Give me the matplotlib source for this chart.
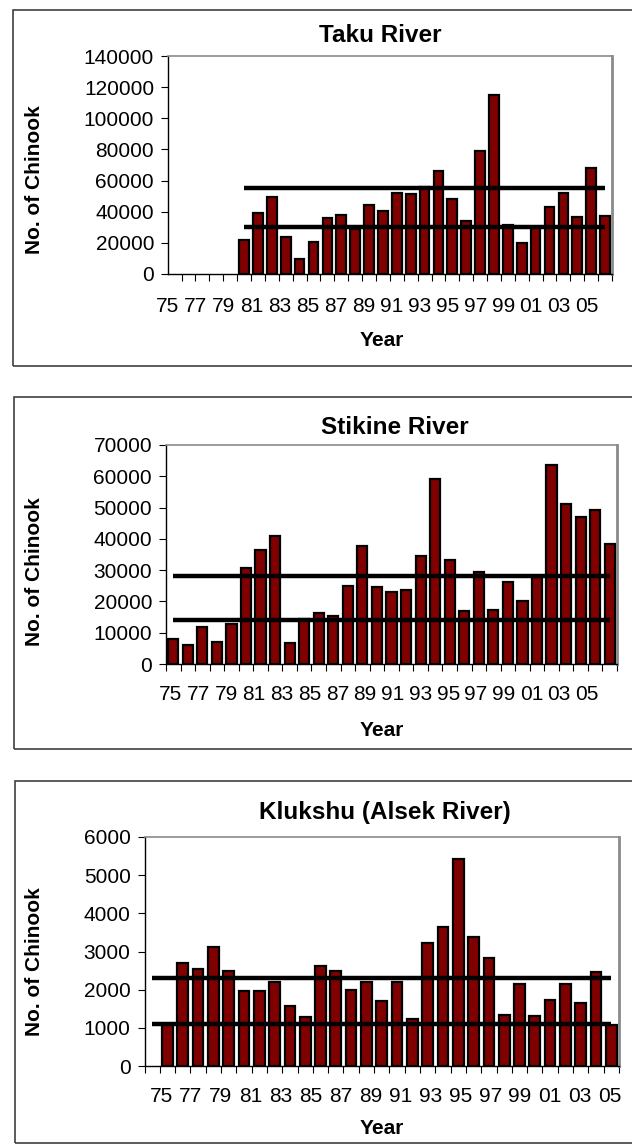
import numpy as np
import matplotlib
matplotlib.use("Agg")
import matplotlib.pyplot as plt
from matplotlib.patches import Rectangle

plt.rcParams['font.family'] = ['Liberation Sans', 'DejaVu Sans']

# categories: 1975 - 2005
years = list(range(1975, 2006))
year_labels = ['75', '77', '79', '81', '83', '85', '87', '89',
               '91', '93', '95', '97', '99', '01', '03', '05']

# Taku River (no estimates 1975-78)
taku = [None, None, None, None, 21600, 39200, 49600, 23900, 9800, 20800,
        35900, 38100, 29000, 44500, 40300, 52100, 51600, 55900, 66100, 48400,
        33800, 79000, 115000, 31500, 19700, 30500, 43000, 52000, 36400, 68300,
        37000]
taku_goal = [30000, 55000]
taku_goal_from = 1979

# Stikine River
stikine = [7900, 6000, 11700, 7000, 12900, 30700, 36300, 40800, 6600, 14300,
           16400, 15200, 24900, 37800, 24500, 23000, 23500, 34400, 59200, 33300,
           17000, 29300, 17300, 26300, 20200, 27800, 63700, 51100, 47100, 49200,
           38200]
stikine_goal = [14000, 28000]
stikine_goal_from = 1975

# Klukshu (Alsek River), no estimate 1975
klukshu = [None, 1100, 2710, 2540, 3110, 2490, 1970, 1970, 2210, 1560,
           1290, 2610, 2490, 2000, 2190, 1700, 2200, 1240, 3230, 3630,
           5420, 3390, 2830, 1340, 2160, 1320, 1740, 2140, 1650, 2460,
           1080]
klukshu_goal = [1100, 2300]
klukshu_goal_from = 1975

W, H = 632, 1146
fig = plt.figure(figsize=(W / 100, H / 100), dpi=100)


def px_rect(left, top, right, bottom):
    return [left / W, 1 - bottom / H, (right - left) / W, (bottom - top) / H]


def panel(rect, frame, title, title_xy, ylab_y, values, goal, goal_from,
          ymax, ystep, lab_span, lab_y, year_y):
    # outer chart frame
    fl, ft, fb = frame
    fig.patches.append(Rectangle((fl / W, 1 - fb / H), (W + 5 - fl) / W, (fb - ft) / H,
                                 transform=fig.transFigure, fill=False,
                                 edgecolor='#404040', linewidth=1.2))
    ax = fig.add_axes(px_rect(*rect))
    x = np.arange(len(years))
    h = np.array([np.nan if v is None else v for v in values], dtype=float)
    ax.bar(x, h, width=0.7, color='#800000', edgecolor='black', linewidth=1.6, zorder=2)
    gx = [i for i, y in enumerate(years) if y >= goal_from]
    for g in goal:
        ax.plot(gx, [g] * len(gx), color='black', linewidth=3.2, zorder=3,
                solid_capstyle='butt')
    ax.set_xlim(-0.5, len(years) - 0.5)
    ax.set_ylim(0, ymax)
    ax.set_yticks(np.arange(0, ymax + 1, ystep))
    ax.tick_params(axis='y', direction='out', length=5, width=0.8, labelsize=15, pad=5)
    ax.set_xticks(np.arange(-0.5, len(years)), labels=[])
    ax.tick_params(axis='x', which='major', direction='out', length=5, width=0.8)
    ax.set_xticks(np.linspace(lab_span[0], lab_span[1], len(year_labels)),
                  labels=year_labels, minor=True)
    ax.tick_params(axis='x', which='minor', length=0, labelsize=15, pad=0)
    for lab in ax.get_xticklabels(minor=True):
        lab.set_y(0)
    ax.xaxis.set_tick_params(which='minor', pad=(lab_y - rect[3]) * 0.72 - 7)
    for s in ['left', 'bottom']:
        ax.spines[s].set_color('black')
        ax.spines[s].set_linewidth(1.0)
    ax.spines['top'].set_color('#8a8a8a')
    ax.spines['top'].set_linewidth(1.2)
    ax.spines['right'].set_color('#8a8a8a')
    ax.spines['right'].set_linewidth(2.0)
    fig.text(title_xy[0] / W, 1 - title_xy[1] / H, title, ha='center', va='center',
             fontsize=17.5, fontweight='bold')
    fig.text(35 / W, 1 - ylab_y / H, 'No. of Chinook', rotation=90, ha='center',
             va='center', fontsize=15, fontweight='bold')
    fig.text(382 / W, 1 - year_y / H, 'Year', ha='center', va='center',
             fontsize=15, fontweight='bold')
    return ax


panel((168, 56, 612, 274), (13, 10, 366), 'Taku River', (380, 35), 180,
      taku, taku_goal, taku_goal_from, 140000, 20000, (-1.48, 28.7), 307, 341)
panel((166, 445, 617, 664), (14, 397, 749), 'Stikine River', (395, 427), 572,
      stikine, stikine_goal, stikine_goal_from, 70000, 10000, (-0.16, 28.43), 695, 730)
panel((144.5, 837, 619, 1066), (15, 781, 1143), 'Klukshu (Alsek River)', (385, 812), 962,
      klukshu, klukshu_goal, klukshu_goal_from, 6000, 1000, (0.58, 29.9), 1097, 1128)

fig.savefig('out.png', dpi=100)
